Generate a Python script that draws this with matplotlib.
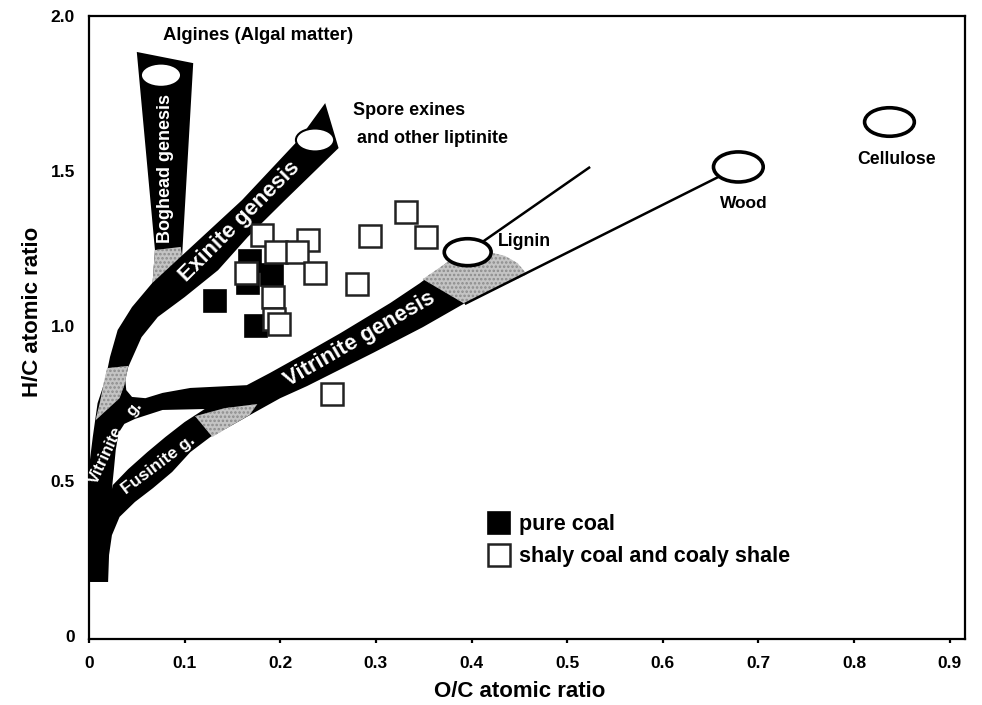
import matplotlib
matplotlib.use("Agg")
import matplotlib.pyplot as plt
from matplotlib.patches import Polygon, Ellipse

plt.rcParams['font.family'] = ['Liberation Sans', 'DejaVu Sans']
plt.rcParams['font.weight'] = 'bold'
plt.rcParams['hatch.linewidth'] = 1.2

# ---- sample data (O/C, H/C atomic ratios) ----
pure_coal_oc = [0.132, 0.191, 0.168, 0.166, 0.175]
pure_coal_hc = [1.079, 1.164, 1.209, 1.138, 1.000]

shaly_oc = [0.181, 0.229, 0.196, 0.218, 0.164, 0.236, 0.192, 0.193, 0.199,
            0.280, 0.294, 0.331, 0.352, 0.254]
shaly_hc = [1.293, 1.277, 1.238, 1.238, 1.172, 1.172, 1.093, 1.022, 1.006,
            1.135, 1.290, 1.367, 1.287, 0.780]

# ---- reference materials ----
material_names = ['Lignin', 'Wood', 'Cellulose']
material_oc = [0.396, 0.679, 0.837]
material_hc = [1.238, 1.513, 1.658]

# ---- coalification band outlines (O/C, H/C) ----
main_band = [
    (0.000, 0.174), (0.000, 0.542), (0.004, 0.642), (0.009, 0.751), (0.017, 0.825),
    (0.022, 0.900), (0.030, 0.987), (0.045, 1.061), (0.066, 1.138), (0.100, 1.235),
    (0.160, 1.406), (0.219, 1.600), (0.247, 1.719),
    (0.261, 1.574),
    (0.205, 1.406), (0.166, 1.287), (0.135, 1.180), (0.100, 1.093), (0.072, 1.029),
    (0.055, 0.964), (0.041, 0.867), (0.038, 0.825),
    (0.039, 0.793), (0.045, 0.771), (0.059, 0.767), (0.077, 0.784), (0.106, 0.800),
    (0.165, 0.809),
    (0.189, 0.848), (0.221, 0.903), (0.263, 0.977), (0.315, 1.074), (0.346, 1.138),
    (0.375, 1.206),
    (0.395, 1.077),
    (0.349, 0.996), (0.297, 0.913), (0.228, 0.806), (0.200, 0.767), (0.172, 0.719),
    (0.148, 0.677), (0.127, 0.642), (0.106, 0.593), (0.087, 0.529), (0.067, 0.477),
    (0.048, 0.432), (0.032, 0.384), (0.024, 0.325), (0.021, 0.261), (0.020, 0.174)]

gap_vitrinite_fusinite = [
    (0.024, 0.474), (0.026, 0.535), (0.028, 0.600), (0.031, 0.655), (0.037, 0.684),
    (0.048, 0.700), (0.077, 0.729), (0.121, 0.732), (0.100, 0.690), (0.080, 0.642),
    (0.061, 0.593), (0.041, 0.538), (0.025, 0.487)]

boghead_band = [(0.050, 1.884), (0.109, 1.848), (0.097, 1.206), (0.066, 1.116),
                (0.069, 1.245)]

grey_boghead = [(0.069, 1.245), (0.096, 1.255), (0.098, 1.206), (0.066, 1.116)]
grey_vitrinite = [(0.019, 0.864), (0.041, 0.871), (0.037, 0.809), (0.032, 0.767),
                  (0.007, 0.696), (0.012, 0.761), (0.016, 0.825)]
grey_fusinite = [(0.111, 0.709), (0.129, 0.642), (0.148, 0.677), (0.168, 0.713),
                 (0.176, 0.748), (0.142, 0.735)]
grey_lignin = [(0.349, 1.151), (0.375, 1.206), (0.396, 1.193), (0.420, 1.219),
               (0.423, 1.235), (0.435, 1.226), (0.448, 1.203), (0.458, 1.167),
               (0.393, 1.071)]

lower_line_oc = [0.393, 0.679]
lower_line_hc = [1.071, 1.513]
upper_line_oc = [0.396, 0.524]
upper_line_hc = [1.238, 1.513]

fig = plt.figure(figsize=(9.82, 7.05), dpi=100)
ax = fig.add_axes([0.0906, 0.0936, 0.8921, 0.8837])
ax.set_xlim(0, 0.916)
ax.set_ylim(-0.01, 2.0)

# bands
ax.add_patch(Polygon(boghead_band, closed=True, fc='black', ec='none', zorder=1))
ax.add_patch(Polygon(grey_boghead, closed=True, fc='#c4c4c4', ec='#8c8c8c',
                     lw=0, hatch='....', zorder=2))
ax.add_patch(Polygon(main_band, closed=True, fc='black', ec='none', zorder=3))
ax.add_patch(Polygon(gap_vitrinite_fusinite, closed=True, fc='white', ec='none', zorder=4))
for g in (grey_vitrinite, grey_fusinite, grey_lignin):
    ax.add_patch(Polygon(g, closed=True, fc='#c4c4c4', ec='#8c8c8c',
                         lw=0, hatch='....', zorder=5))

# thin trend lines toward wood / lignin
ax.plot(lower_line_oc, lower_line_hc, color='black', lw=1.8, zorder=5,
        solid_capstyle='butt')
ax.plot(upper_line_oc, upper_line_hc, color='black', lw=1.8, zorder=5,
        solid_capstyle='butt')

# source material ellipses
ax.add_patch(Ellipse((0.0753, 1.809), 0.042, 0.075, fc='white', ec='black', lw=1.5, zorder=6))
ax.add_patch(Ellipse((0.2364, 1.600), 0.040, 0.074, fc='white', ec='black', lw=1.5, zorder=6))
sizes = [(0.049, 0.087), (0.052, 0.097), (0.052, 0.092)]
for (x, y), (w, h) in zip(zip(material_oc, material_hc), sizes):
    ax.add_patch(Ellipse((x, y), w, h, fc='white', ec='black', lw=2.6, zorder=6))

# samples
h_pure, = ax.plot(pure_coal_oc, pure_coal_hc, ls='none', marker='s', ms=15.5,
                  mfc='black', mec='black', mew=1.2, zorder=7, label='pure coal')
h_shaly, = ax.plot(shaly_oc, shaly_hc, ls='none', marker='s', ms=15.5,
                   mfc='white', mec='#222222', mew=1.8, zorder=8,
                   label='shaly coal and coaly shale')

# band labels
band_txt = dict(color='white', fontweight='bold', ha='center', va='center',
                rotation_mode='anchor', zorder=9)
ax.text(0.0805, 1.509, 'Boghead genesis', rotation=90, fontsize=13, **band_txt)
ax.text(0.157, 1.337, 'Exinite genesis', rotation=45, fontsize=16, **band_txt)
ax.text(0.2835, 0.958, 'Vitrinite genesis', rotation=30, fontsize=16, **band_txt)
ax.text(0.0178, 0.584, 'Vitrinite', rotation=65, fontsize=12, **band_txt)
ax.text(0.047, 0.735, 'g.', rotation=50, fontsize=12, **band_txt)
ax.text(0.0722, 0.551, 'Fusinite g.', rotation=37, fontsize=12.5, **band_txt)

# annotations
ax.text(0.1768, 1.938, 'Algines (Algal matter)', fontsize=13.3, ha='center', va='center')
ax.text(0.276, 1.696, 'Spore exines', fontsize=13, ha='left', va='center')
ax.text(0.2803, 1.606, 'and other liptinite', fontsize=13, ha='left', va='center')
ax.text(0.4278, 1.271, material_names[0], fontsize=12.8, ha='left', va='center')
ax.text(0.685, 1.396, material_names[1], fontsize=12.5, ha='center', va='center')
ax.text(0.844, 1.538, material_names[2], fontsize=12.7, ha='center', va='center')

# axes styling
for s in ax.spines.values():
    s.set_linewidth(1.6)
ax.set_xticks([0, 0.1, 0.2, 0.3, 0.4, 0.5, 0.6, 0.7, 0.8, 0.9])
ax.set_xticklabels(['0', '0.1', '0.2', '0.3', '0.4', '0.5', '0.6', '0.7', '0.8', '0.9'])
ax.set_yticks([0, 0.5, 1.0, 1.5, 2.0])
ax.set_yticklabels(['0', '0.5', '1.0', '1.5', '2.0'])
ax.tick_params(axis='x', length=3, width=1.6, direction='out', pad=9, labelsize=12.5)
ax.tick_params(axis='y', length=0, pad=10, labelsize=12.5)
for lab in ax.get_xticklabels() + ax.get_yticklabels():
    lab.set_fontweight('bold')

ax.set_xlabel('O/C atomic ratio', fontsize=16, fontweight='bold')
ax.set_ylabel('H/C atomic ratio', fontsize=16, fontweight='bold')
ax.xaxis.set_label_coords(0.492, -0.067)
ax.yaxis.set_label_coords(-0.053, 0.525)

ax.legend(handles=[h_pure, h_shaly], loc='upper left', bbox_to_anchor=(0.4554, 0.2006),
          frameon=False, fontsize=15.5, handlelength=1.0, handletextpad=0.45,
          labelspacing=0.53, borderpad=0, borderaxespad=0, markerscale=1.0)

fig.savefig('out.png', dpi=100)
